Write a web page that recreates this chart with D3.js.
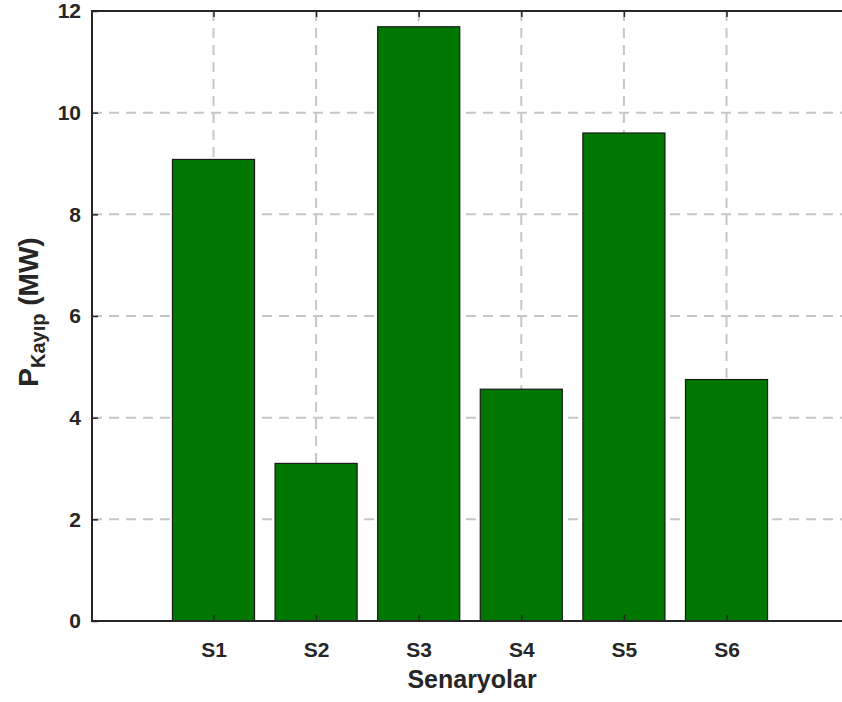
<!DOCTYPE html>
<html lang="tr">
<head>
<meta charset="utf-8">
<title>P Kayıp - Senaryolar</title>
<script src="https://cdn.jsdelivr.net/npm/d3@7"></script>
<style>
body { margin: 0; background: #fff; }
.tick text, .label { font-family: "Liberation Sans", Arial, sans-serif; font-weight: bold; fill: #262626; }
</style>
</head>
<body>
<script>
// data
var scenarios = ["S1", "S2", "S3", "S4", "S5", "S6"];
var losses = [9.08, 3.10, 11.69, 4.56, 9.60, 4.75];
var yTicks = [0, 2, 4, 6, 8, 10, 12];

(function() {
var W = 842, H = 702;
var pL = 92, pT = 11, pR = 848, pB = 621;

var svg = d3.select("body").append("svg")
    .attr("width", W).attr("height", H);

// x positions as in matlab: category i at i+1, axis a bit wider
var x = d3.scaleLinear().domain([-0.184, 7.184]).range([pL, pR]);
var y = d3.scaleLinear().domain([0, 12]).range([pB, pT]);
var barW = (x(1) - x(0)) * 0.8;

// grid
var grid = svg.append("g").attr("stroke", "#c6c6c6").attr("stroke-width", 2)
    .attr("stroke-dasharray", "10,7");
grid.selectAll(".hg").data(yTicks.slice(1, -1)).enter().append("line")
    .attr("x1", pL).attr("x2", pR)
    .attr("y1", function(d) { return y(d); }).attr("y2", function(d) { return y(d); });
grid.selectAll(".vg").data(scenarios).enter().append("line")
    .attr("x1", function(d, i) { return x(i + 1); }).attr("x2", function(d, i) { return x(i + 1); })
    .attr("y1", pT).attr("y2", pB);

// bars
svg.selectAll(".bar").data(losses).enter().append("rect")
    .attr("x", function(d, i) { return x(i + 1) - barW / 2; })
    .attr("y", function(d) { return y(d); })
    .attr("width", barW)
    .attr("height", function(d) { return pB - y(d); })
    .attr("fill", "#007700")
    .attr("stroke", "#1a1a1a").attr("stroke-width", 1.2);

// axes
var yAxis = d3.axisLeft(y).tickValues(yTicks).tickSizeInner(-6).tickSizeOuter(0).tickPadding(11);
var gy = svg.append("g").attr("transform", "translate(" + pL + ",0)").call(yAxis);
var gyr = svg.append("g").attr("transform", "translate(" + pR + ",0)")
    .call(d3.axisRight(y).tickValues(yTicks).tickSizeInner(-6).tickSizeOuter(0).tickFormat(""));

var xAxis = d3.axisBottom(x).tickValues(d3.range(1, 7))
    .tickFormat(function(d) { return scenarios[d - 1]; })
    .tickSizeInner(-6).tickSizeOuter(0).tickPadding(21);
var gx = svg.append("g").attr("transform", "translate(0," + pB + ")").call(xAxis);
var gxt = svg.append("g").attr("transform", "translate(0," + pT + ")")
    .call(d3.axisTop(x).tickValues(d3.range(1, 7)).tickSizeInner(-6).tickSizeOuter(0).tickFormat(""));

[gy, gyr, gx, gxt].forEach(function(g) {
    g.select(".domain").attr("stroke", "#262626").attr("stroke-width", 2);
    g.selectAll(".tick line").attr("stroke", "#262626").attr("stroke-width", 1.5);
    g.selectAll(".tick text").attr("font-size", 21);
});
gy.select(".domain").attr("d", "M0," + (pT - 1) + "V" + (pB + 1));
gx.select(".domain").attr("d", "M" + (pL - 1) + ",0H" + pR);
gxt.select(".domain").attr("d", "M" + (pL - 1) + ",0H" + pR);

// labels
svg.append("text").attr("class", "label")
    .attr("x", 472).attr("y", 688)
    .attr("text-anchor", "middle").attr("font-size", 25)
    .text("Senaryolar");

var yl = svg.append("text").attr("class", "label")
    .attr("transform", "translate(38,312) rotate(-90)")
    .attr("text-anchor", "middle").attr("font-size", 28);
yl.append("tspan").text("P");
yl.append("tspan").attr("font-size", 20).attr("dy", 7).text("Kayıp");
yl.append("tspan").attr("dy", -7).text(" (MW)");
})();
</script>
</body>
</html>
